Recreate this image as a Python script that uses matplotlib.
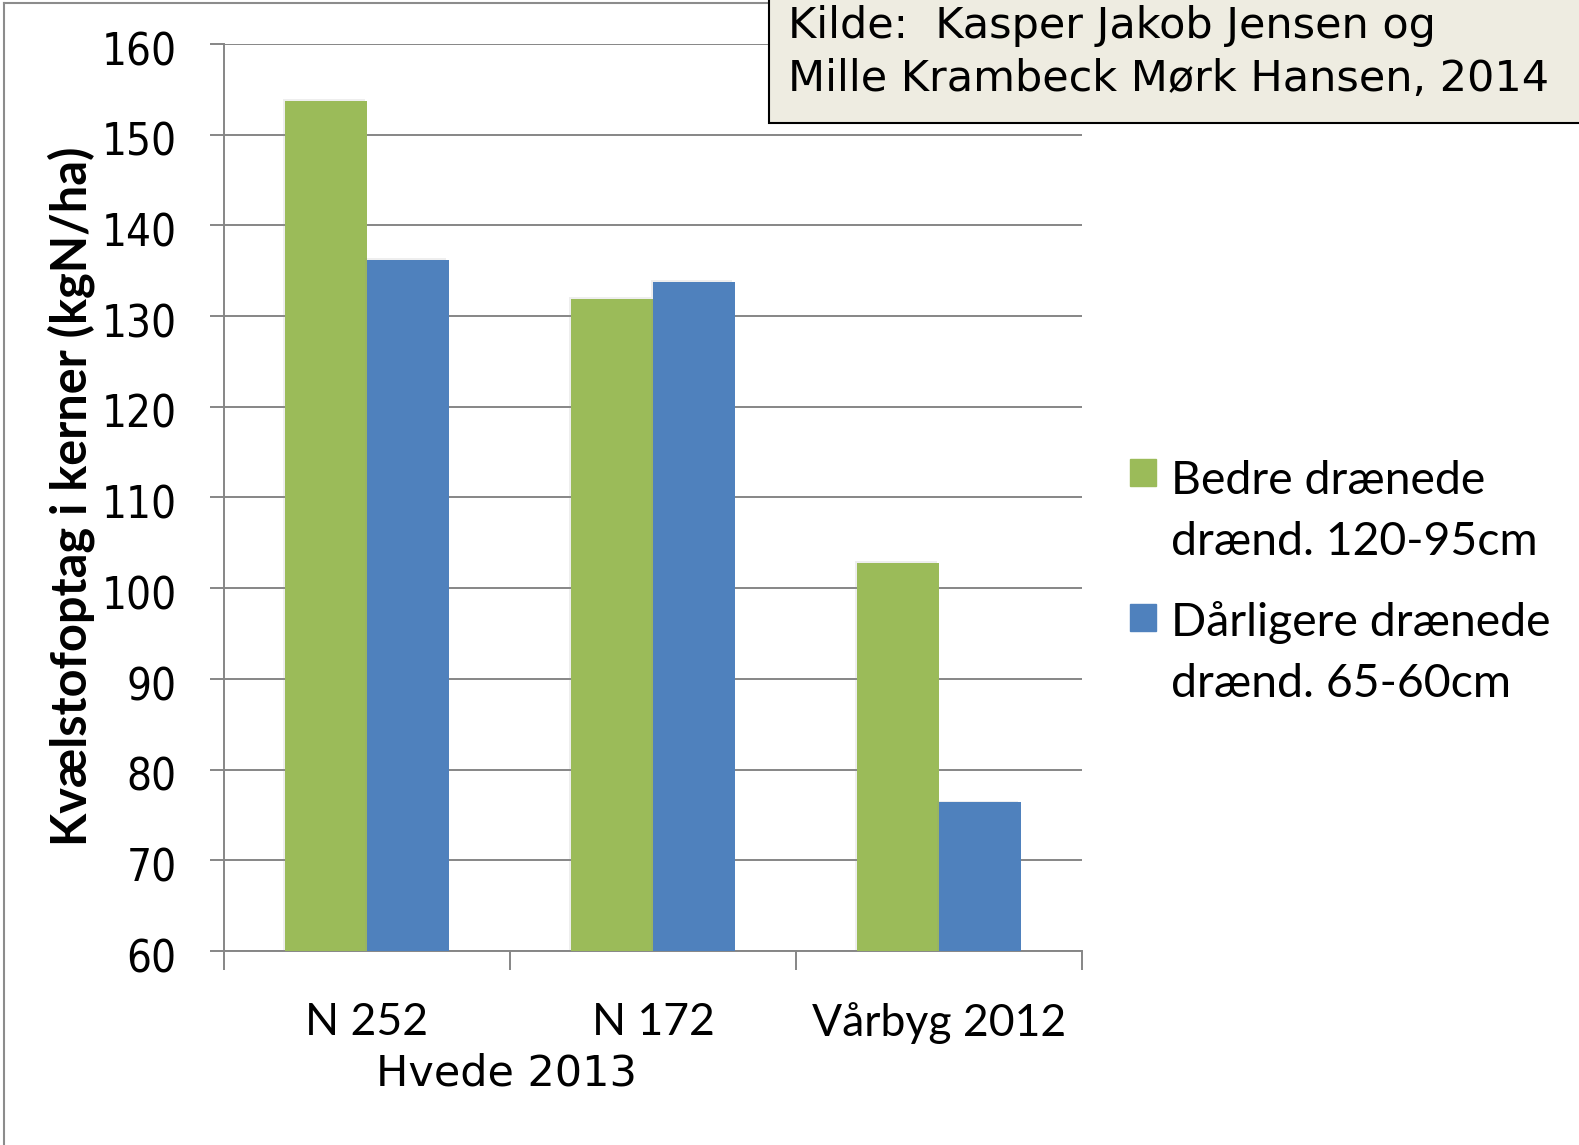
import numpy as np
import matplotlib.pyplot as plt
import matplotlib.patheffects as pe
import matplotlib.transforms as mtransforms
from matplotlib.patches import Rectangle
from matplotlib.lines import Line2D

# data
groups = ['N 252', 'N 172', 'Vårbyg 2012']
better = [153.7, 131.9, 102.8]     # Bedre drænede
worse = [136.2, 133.8, 76.4]       # Dårligere drænede
series_labels = [['Bedre drænede', 'drænd. 120-95cm'],
                 ['Dårligere drænede', 'drænd. 65-60cm']]
yticks = np.arange(60, 161, 10)

green = '#9BBB59'
blue = '#4F81BD'
grey = '#868686'

W, H = 1579, 1145
fig = plt.figure(figsize=(W / 100, H / 100), dpi=100)

def fx(px):
    return px / W

def fy(py):
    return 1 - py / H

ax = fig.add_axes([fx(224), fy(951), fx(1082) - fx(224), fy(44) - fy(951)])

shadow = [pe.SimplePatchShadow(offset=(-1.5, 1.2), shadow_rgbFace='#909090',
                               alpha=0.15), pe.Normal()]
x = np.arange(len(groups))
bw = 0.285
ax.bar(x - bw / 2, better, bw, color=green, zorder=3, path_effects=shadow)
ax.bar(x + bw / 2, worse, bw, color=blue, zorder=3, path_effects=shadow)

ax.set_xlim(-0.5, 2.5)
ax.set_ylim(60, 160)
ax.set_yticks(yticks)
ax.grid(axis='y', color=grey, lw=1.4, zorder=0)
ax.set_axisbelow(True)

for s in ['top', 'right']:
    ax.spines[s].set_visible(False)
for s in ['left', 'bottom']:
    ax.spines[s].set_color(grey)
    ax.spines[s].set_linewidth(1.4)

ax.tick_params(axis='y', length=10, width=1.4, color=grey, pad=24,
               labelsize=31.5)
# y labels sit a little below their gridlines
drop = mtransforms.ScaledTranslation(0, -3 / 72, fig.dpi_scale_trans)
for lab in ax.get_yticklabels():
    lab.set_fontfamily('DejaVu Sans')
    lab.set_fontstretch('condensed')
    lab.set_transform(lab.get_transform() + drop)

# group boundaries as major ticks, names on minor ticks
ax.set_xticks([-0.5, 0.5, 1.5, 2.5])
ax.set_xticklabels([])
ax.set_xticks(x, minor=True)
ax.set_xticklabels(groups, minor=True, fontfamily='Lato', fontsize=32)
ax.tick_params(axis='x', which='major', length=13.7, width=1.4, color=grey)
ax.tick_params(axis='x', which='minor', length=0, pad=37)

fig.text(fx(506), fy(1086), 'Hvede 2013', ha='center', va='baseline',
         fontsize=31, fontfamily='DejaVu Sans')

fig.text(fx(71), fy(496), 'Kvælstofoptag i kerner (kgN/ha)', rotation=90,
         ha='center', va='center', fontsize=35, fontweight='bold',
         fontfamily='Lato')

# legend drawn by hand
legend_rows = [(459, [494, 555], green), (604, [636, 697], blue)]
for (top, baselines, col), lines in zip(legend_rows, series_labels):
    fig.patches.append(Rectangle((fx(1130), fy(top + 27)), fx(26), 27 / H,
                                 transform=fig.transFigure, color=col))
    for b, t in zip(baselines, lines):
        fig.text(fx(1171), fy(b), t, ha='left', va='baseline', fontsize=33.4,
                 fontfamily='Lato')

# outer frame
fig.lines.append(Line2D([fx(4), fx(4)], [0, fy(3)], color='#8c8c8c', lw=1.5,
                        transform=fig.transFigure))
fig.lines.append(Line2D([fx(4), fx(770)], [fy(3), fy(3)], color='#8c8c8c',
                        lw=1.5, transform=fig.transFigure))

# source box
fig.patches.append(Rectangle((fx(769), fy(123)), fx(W + 10) - fx(769), 140 / H,
                             transform=fig.transFigure, facecolor='#EEECE1',
                             edgecolor='black', lw=1.5, zorder=5))
fig.text(fx(788), fy(38), 'Kilde:  Kasper Jakob Jensen og', ha='left',
         va='baseline', fontsize=31, fontfamily='DejaVu Sans', zorder=6)
fig.text(fx(788), fy(91), 'Mille Krambeck Mørk Hansen, 2014', ha='left',
         va='baseline', fontsize=31, fontfamily='DejaVu Sans', zorder=6)

fig.savefig('out.png', dpi=100)
